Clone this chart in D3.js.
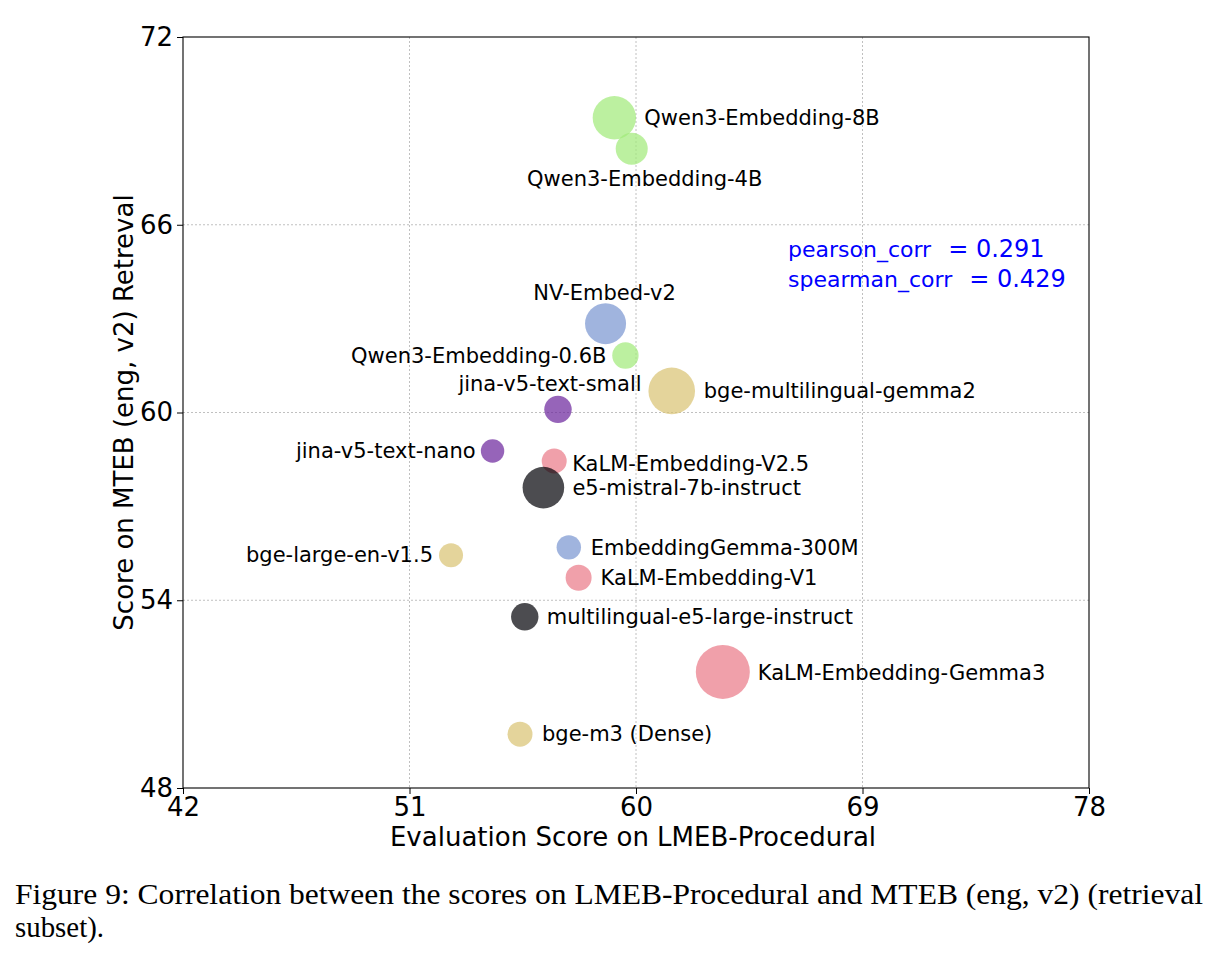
<!DOCTYPE html>
<html>
<head>
<meta charset="utf-8">
<script src="https://cdn.jsdelivr.net/npm/d3@7"></script>
<style>
  html, body { margin: 0; padding: 0; background: #fff; }
  svg { display: block; }
</style>
</head>
<body>
<div id="chart"></div>
<script>
// data
var models = [
  'Qwen3-Embedding-8B', 'Qwen3-Embedding-4B', 'NV-Embed-v2', 'Qwen3-Embedding-0.6B',
  'bge-multilingual-gemma2', 'jina-v5-text-small', 'jina-v5-text-nano', 'KaLM-Embedding-V2.5',
  'e5-mistral-7b-instruct', 'bge-large-en-v1.5', 'EmbeddingGemma-300M', 'KaLM-Embedding-V1',
  'multilingual-e5-large-instruct', 'KaLM-Embedding-Gemma3', 'bge-m3 (Dense)'
];
var families = [
  'qwen', 'qwen', 'nv', 'qwen',
  'bge', 'jina', 'jina', 'kalm',
  'e5', 'bge', 'nv', 'kalm',
  'e5', 'kalm', 'bge'
];
var lmebScores = [
  59.14, 59.83, 58.79, 59.58,
  61.42, 56.90, 54.30, 56.75,
  56.32, 52.65, 57.33, 57.72,
  55.58, 63.45, 55.39
];
var mtebScores = [
  69.42, 68.43, 62.84, 61.82,
  60.69, 60.10, 58.77, 58.45,
  57.60, 55.44, 55.69, 54.72,
  53.47, 51.71, 49.72
];
// relative bubble area
var bubbleSizes = [
  470, 256, 420, 174,
  543, 188, 137, 156,
  433, 144, 149, 169,
  188, 729, 156
];
var xTicks = [42, 51, 60, 69, 78];
var yTicks = [48, 54, 60, 66, 72];
var corrNames = ['pearson_corr', 'spearman_corr'];
var corrValues = ['0.291', '0.429'];
var captionLines = [
  'Figure 9: Correlation between the scores on LMEB-Procedural and MTEB (eng, v2) (retrieval',
  'subset).'
];

// colours per model family
var familyColor = {
  qwen: 'rgb(159,234,119)',
  nv: 'rgb(119,148,208)',
  bge: 'rgb(216,194,112)',
  jina: 'rgb(105,34,155)',
  kalm: 'rgb(234,119,134)',
  e5: 'rgb(0,0,6)'
};

// label placement: anchor, dx, dy relative to bubble centre
var labelPos = {
  'Qwen3-Embedding-8B': ['start', 30, 0],
  'Qwen3-Embedding-4B': ['middle', 13, 30],
  'NV-Embed-v2': ['middle', -1, -31],
  'Qwen3-Embedding-0.6B': ['end', -19, 0],
  'bge-multilingual-gemma2': ['start', 32, 0],
  'jina-v5-text-small': ['middle', -8, -25],
  'jina-v5-text-nano': ['end', -17, 0],
  'KaLM-Embedding-V2.5': ['start', 18, 3],
  'e5-mistral-7b-instruct': ['start', 29, 0],
  'bge-large-en-v1.5': ['end', -18, 0],
  'EmbeddingGemma-300M': ['start', 22, 1],
  'KaLM-Embedding-V1': ['start', 22, 0],
  'multilingual-e5-large-instruct': ['start', 22, 0],
  'KaLM-Embedding-Gemma3': ['start', 35, 1],
  'bge-m3 (Dense)': ['start', 22, 0]
};

var W = 1218, H = 959;
var pl = 183, pr = 1089, pt = 37, pb = 788;
var sans = 'DejaVu Sans, sans-serif';

var svg = d3.select('#chart')
  .append('svg')
  .attr('width', W)
  .attr('height', H);

var x = d3.scaleLinear().domain([42, 78]).range([pl, pr]);
var y = d3.scaleLinear().domain([48, 72]).range([pb, pt]);
var r = d3.scaleSqrt().domain([0, d3.max(bubbleSizes)]).range([0, 27]);

// grid
var grid = svg.append('g').attr('class', 'grid');
grid.selectAll('line.gx')
  .data(xTicks.slice(1, -1))
  .enter()
  .append('line')
  .attr('x1', function (d) { return x(d); })
  .attr('x2', function (d) { return x(d); })
  .attr('y1', pt)
  .attr('y2', pb)
  .attr('stroke', '#b0b0b0')
  .attr('stroke-width', 0.8)
  .attr('stroke-dasharray', '2,2');
grid.selectAll('line.gy')
  .data(yTicks.slice(1, -1))
  .enter()
  .append('line')
  .attr('x1', pl)
  .attr('x2', pr)
  .attr('y1', function (d) { return y(d); })
  .attr('y2', function (d) { return y(d); })
  .attr('stroke', '#b0b0b0')
  .attr('stroke-width', 0.8)
  .attr('stroke-dasharray', '2,2');

// bubbles
var rows = models.map(function (m, i) {
  return { name: m, fam: families[i], x: lmebScores[i], y: mtebScores[i], s: bubbleSizes[i] };
});

svg.append('g')
  .selectAll('circle')
  .data(rows)
  .enter()
  .append('circle')
  .attr('cx', function (d) { return x(d.x); })
  .attr('cy', function (d) { return y(d.y); })
  .attr('r', function (d) { return r(d.s); })
  .attr('fill', function (d) { return familyColor[d.fam]; })
  .attr('fill-opacity', 0.7);

// labels
svg.append('g')
  .selectAll('text')
  .data(rows)
  .enter()
  .append('text')
  .attr('x', function (d) { return x(d.x) + labelPos[d.name][1]; })
  .attr('y', function (d) { return y(d.y) + labelPos[d.name][2]; })
  .attr('text-anchor', function (d) { return labelPos[d.name][0]; })
  .attr('dominant-baseline', 'central')
  .attr('font-family', sans)
  .attr('font-size', 21)
  .attr('fill', '#000')
  .text(function (d) { return d.name; });

// correlation text (name, then "= value" set like mathtext)
var corr = svg.append('g')
  .selectAll('text')
  .data(corrNames)
  .enter()
  .append('text')
  .attr('x', 788)
  .attr('y', function (d, i) { return 257 + i * 30; })
  .attr('font-family', sans)
  .attr('font-size', 22)
  .attr('fill', '#0000ff');
corr.append('tspan').text(function (d) { return d; });
corr.append('tspan')
  .attr('dx', 17)
  .attr('font-size', 24)
  .text(function (d, i) { return '= ' + corrValues[i]; });

// axes
var xAxis = d3.axisBottom(x).tickValues(xTicks).tickSize(6).tickPadding(4);
var yAxis = d3.axisLeft(y).tickValues(yTicks).tickSize(6).tickPadding(4);

var gx = svg.append('g')
  .attr('transform', 'translate(0,' + pb + ')')
  .call(xAxis);
var gy = svg.append('g')
  .attr('transform', 'translate(' + pl + ',0)')
  .call(yAxis);
[gx, gy].forEach(function (g) {
  g.attr('font-size', 26).attr('font-family', sans);
  g.select('.domain').remove();
  g.selectAll('line').attr('stroke', '#000').attr('stroke-width', 1);
  g.selectAll('text').attr('fill', '#000');
});

// frame
svg.append('rect')
  .attr('x', pl)
  .attr('y', pt)
  .attr('width', pr - pl)
  .attr('height', pb - pt)
  .attr('fill', 'none')
  .attr('stroke', '#000')
  .attr('stroke-width', 1.1);

// axis titles
svg.append('text')
  .attr('x', (pl + pr) / 2 - 3)
  .attr('y', 846)
  .attr('text-anchor', 'middle')
  .attr('font-family', sans)
  .attr('font-size', 26)
  .text('Evaluation Score on LMEB-Procedural');
svg.append('text')
  .attr('transform', 'translate(133,' + (pt + pb) / 2 + ') rotate(-90)')
  .attr('text-anchor', 'middle')
  .attr('font-family', sans)
  .attr('font-size', 26)
  .text('Score on MTEB (eng, v2) Retreval');

// caption
svg.append('text')
  .attr('x', 15)
  .attr('y', 904)
  .attr('font-family', 'Liberation Serif, serif')
  .attr('font-size', 29)
  .attr('textLength', 1188)
  .attr('lengthAdjust', 'spacingAndGlyphs')
  .text(captionLines[0]);
svg.append('text')
  .attr('x', 15)
  .attr('y', 937)
  .attr('font-family', 'Liberation Serif, serif')
  .attr('font-size', 29)
  .attr('textLength', 89)
  .attr('lengthAdjust', 'spacingAndGlyphs')
  .text(captionLines[1]);
</script>
</body>
</html>
